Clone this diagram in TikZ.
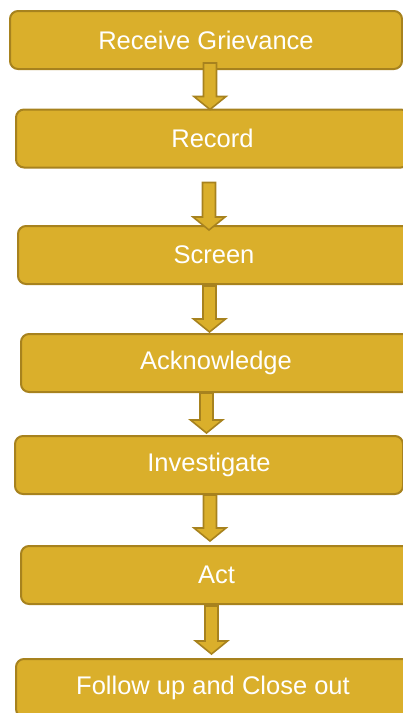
\documentclass[tikz,border=0pt]{standalone}
\usepackage{fontspec}
\setmainfont{Liberation Sans}
\usetikzlibrary{calc}

\definecolor{oro}{HTML}{DAAF2B}
\definecolor{orooscuro}{HTML}{A7821E}

\begin{document}
\begin{tikzpicture}[x=1pt,y=-1pt,
  paso/.style={draw=orooscuro,fill=oro,line width=2pt,rounded corners=8pt,
    text=white,font=\fontsize{25.5}{30}\selectfont,minimum height=58pt,inner sep=0pt},
  flecha/.style={draw=orooscuro,fill=oro,line width=1.6pt,
    to path={let \p1=(\tikztostart), \p2=(\tikztotarget) in
      (\x1-6.5pt,\y1) -- (\x1+6.5pt,\y1) -- (\x1+6.5pt,\y2+13pt) -- (\x1+16pt,\y2+13pt)
      -- (\x1,\y2) -- (\x1-16pt,\y2+13pt) -- (\x1-6.5pt,\y2+13pt) -- cycle}}]
  \useasboundingbox (0,0) rectangle (403,713);
  % pasos del procedimiento
  \node[paso,minimum width=392pt] (recibir) at (206,40){Receive Grievance};
  \node[paso,minimum width=393pt] (registrar) at (212.5,138.5){Record};
  \node[paso,minimum width=392pt] (filtrar) at (214,255){Screen};
  \node[paso,minimum width=390pt] (acusar) at (216,363){Acknowledge};
  \node[paso,minimum width=388pt] (investigar) at (209,465){Investigate};
  \node[paso,minimum width=391pt] (actuar) at (216.5,575){Act};
  \node[paso,minimum width=394pt] (cerrar) at (213,688){Follow up and Close out};
  % flechas de bloque entre pasos
  \draw[flecha] ([xshift=4pt,yshift=7pt]recibir.south) to ([yshift=-1pt]registrar.north);
  \draw[flecha] ([xshift=-3.5pt,yshift=-14pt]registrar.south) to ([yshift=-5pt]filtrar.north);
  \draw[flecha] ([xshift=-4.5pt,yshift=-1pt]filtrar.south) to ([yshift=1pt]acusar.north);
  \draw[flecha] ([xshift=-9.5pt]acusar.south) to ([yshift=2pt]investigar.north);
  \draw[flecha] ([xshift=1pt]investigar.south) to ([yshift=4pt]actuar.north);
  \draw[flecha] ([xshift=-5pt,yshift=-1pt]actuar.south) to ([yshift=4pt]cerrar.north);
\end{tikzpicture}
\end{document}
